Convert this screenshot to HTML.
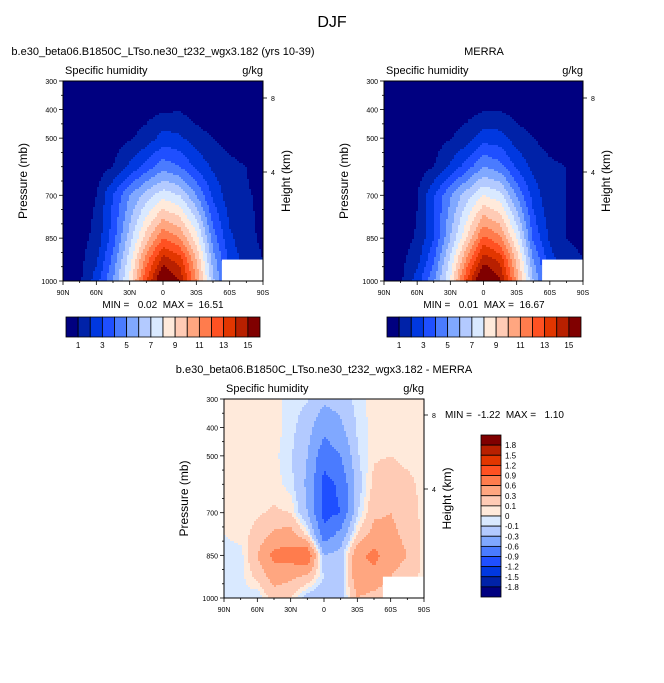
<!DOCTYPE html>
<html><head><meta charset="utf-8"><style>
html,body{margin:0;padding:0;background:#fff;}
svg{display:block;font-family:"Liberation Sans",Arial,sans-serif;}
text{white-space:pre;}
</style></head><body>
<svg id="fig" width="664" height="683" viewBox="0 0 664 683"></svg>
<script>
const lats=[90,75,60,45,30,15,0,-15,-30,-45,-60,-75,-90];
const presTop=[300,400,500,600,700,850,925,1000];
const qModel=[
[0.1,0.1,0.15,0.2,0.25,0.35,0.45,0.45,0.35,0.25,0.2,0.15,0.1],
[0.1,0.1,0.15,0.25,0.35,0.6,0.85,0.9,0.55,0.35,0.25,0.15,0.1],
[0.05,0.1,0.25,0.5,0.9,1.4,2.4,2.2,1.4,1.0,0.6,0.3,0.2],
[0.1,0.25,0.5,1.0,2.2,3.4,4.6,4.0,2.8,1.8,1.3,1.0,0.5],
[0.2,0.4,1.0,3.0,5.0,6.5,7.6,7.0,5.0,2.8,1.4,1.1,0.8],
[0.3,0.6,1.3,3.5,6.5,9.5,12.0,11.0,8.5,4.5,2.2,1.3,0.8],
[0.4,0.7,1.8,4.3,7.5,11.5,14.5,13.5,10.0,5.5,2.7,1.5,1.0],
[0.5,0.8,2.5,5.0,8.3,13.0,16.5,15.0,11.0,6.3,3.0,1.6,0.5]];
const qObs=[
[0.1,0.1,0.15,0.2,0.25,0.35,0.45,0.45,0.35,0.25,0.2,0.15,0.1],
[0.1,0.1,0.15,0.25,0.35,0.6,0.9,0.95,0.55,0.35,0.25,0.15,0.1],
[0.05,0.1,0.25,0.5,0.95,1.5,2.6,2.4,1.5,1.0,0.6,0.3,0.2],
[0.1,0.25,0.5,1.0,2.2,3.5,5.0,4.4,2.8,1.7,1.2,1.0,0.5],
[0.2,0.4,0.95,2.9,4.9,6.6,8.0,7.4,4.9,2.6,1.2,1.0,0.8],
[0.3,0.6,1.1,3.0,6.0,9.0,12.3,11.2,8.0,3.8,1.8,1.0,0.8],
[0.4,0.7,1.6,3.9,7.2,11.2,14.6,13.7,9.7,5.0,2.4,1.3,1.0],
[0.5,0.8,2.5,4.8,8.1,13.2,16.7,15.2,10.7,6.0,2.9,1.4,0.5]];
const presDiff=[300,400,500,600,700,775,850,925,1000];
const qDiff=[
[0.05,0.05,0.05,0.05,-0.05,-0.08,-0.25,-0.2,-0.05,0.05,0.05,0.05,0.05],
[0.05,0.05,0.05,0.05,-0.05,-0.2,-0.5,-0.35,-0.08,0.05,0.05,0.05,0.05],
[0.05,0.05,0.05,0.03,-0.08,-0.3,-0.8,-0.6,-0.12,0.08,0.1,0.05,0.05],
[0.05,0.05,0.05,0.05,-0.05,-0.35,-1.0,-0.85,-0.2,0.15,0.2,0.15,0.05],
[0.05,0.05,0.08,0.12,0.1,-0.3,-1.0,-0.9,-0.12,0.25,0.3,0.2,0.05],
[0.0,0.05,0.15,0.35,0.4,0.05,-0.8,-0.5,0.1,0.4,0.35,0.25,0.05],
[-0.05,-0.05,0.3,0.7,0.75,0.9,-0.3,-0.2,0.5,0.7,0.4,0.3,0.05],
[-0.05,-0.05,0.15,0.4,0.35,0.25,-0.1,-0.2,0.5,0.5,0.3,0.2,0.05],
[-0.05,0.0,-0.1,0.2,0.1,-0.2,-0.3,-0.2,0.3,0.2,0.1,0.1,0.05]];
const levelsQ=[1,2,3,4,5,6,7,8,9,10,11,12,13,14,15];
const levelsD=[-1.8,-1.5,-1.2,-0.9,-0.6,-0.3,-0.1,0,0.1,0.3,0.6,0.9,1.2,1.5,1.8];
const cbLabelsQ=["1","3","5","7","9","11","13","15"];
const xTickLabels=["90N","60N","30N","0","30S","60S","90S"];
const xTickLats=[90,60,30,0,-30,-60,-90];
const pTicks=[300,400,500,700,850,1000];
const hTicks=[8,4];
const colors=["#000080","#0022a8","#0038e0","#1f4fff","#4a7bff","#80a8ff","#b3caff","#d9e9ff","#ffeadb","#ffcbb5","#ffa680","#ff7c4d","#ff5122","#e23600","#b82000","#800000"];

const NS="http://www.w3.org/2000/svg";
const svg=document.getElementById('fig');
function mk(tag,attrs,parent){const e=document.createElementNS(NS,tag);for(const k in attrs)e.setAttribute(k,attrs[k]);(parent||svg).appendChild(e);return e;}
function txt(s,x,y,size,anchor,parent,extra){const t=mk('text',Object.assign({x:x,y:y,'font-size':size,'text-anchor':anchor||'start',fill:'#000'},extra||{}),parent);t.textContent=s;return t;}

function interp(grid,pres,lat,p){
  let fi=(90-lat)/15; fi=Math.max(0,Math.min(lats.length-1,fi));
  let i=Math.min(Math.floor(fi),lats.length-2); let a=fi-i;
  let j=0; while(j<pres.length-2 && p>pres[j+1]) j++;
  let b=(p-pres[j])/(pres[j+1]-pres[j]); b=Math.max(0,Math.min(1,b));
  const v00=grid[j][i],v01=grid[j][i+1],v10=grid[j+1][i],v11=grid[j+1][i+1];
  return (v00*(1-a)+v01*a)*(1-b)+(v10*(1-a)+v11*a)*b;
}
function cls(v,levels){let k=0;for(const l of levels){if(v>=l)k++;}return k;}

function panel(o){
  const g=mk('g',{});
  
  
  const x0=o.x,y0=o.y,w=o.w,h=o.h;
  const xS=lat=>x0+(90-lat)/180*w;
  const yS=p=>y0+(p-300)/700*h;
  const fg=mk('g',{},g);
  
  
  const step=2;
  for(let py=0;py<h;py+=step){
    const p=300+(py+step/2)/h*700;
    let runStart=0,runC=null;
    const cols=Math.ceil(w/step);
    for(let ci=0;ci<=cols;ci++){
      const px=Math.min(ci*step,w);
      let c=null;
      if(ci<cols){const lat=90-(px+step/2)/w*180;c=cls(interp(o.grid,o.pres,lat,p),o.levels);}
      if(c!==runC){
        if(runC!==null){
          const r=mk('rect',{x:x0+runStart,y:y0+py,width:px-runStart+0.4,height:Math.min(step+0.4,h-py),fill:colors[runC]},fg);
          
          
        }
        runStart=px;runC=c;
      }
    }
  }
  const mb=mk('rect',{x:xS(-53),y:yS(925),width:x0+w-xS(-53),height:y0+h-yS(925),fill:'#fff'},g);
  
  
  const fr=mk('rect',{x:x0,y:y0,width:w,height:h,fill:'none',stroke:'#000','stroke-width':1},g);
  
  
  for(let lat=90;lat>=-90;lat-=15){
    const major=lat%30===0;
    mk('line',{x1:xS(lat),x2:xS(lat),y1:y0+h,y2:y0+h+(major?4:2),stroke:'#000','stroke-width':0.8},g);
  }
  xTickLabels.forEach((s,i)=>{const t=txt(s,xS(xTickLats[i]),y0+h+14,7,'middle',g);});
  for(let p=300;p<=1000;p+=50){const major=pTicks.includes(p);mk('line',{x1:x0-(major?4:2),x2:x0,y1:yS(p),y2:yS(p),stroke:'#000','stroke-width':0.8},g);}
  pTicks.forEach(p=>{const t=txt(String(p),x0-6,yS(p)+3,7,'end',g);});
  hTicks.forEach(km=>{const yy=o.kmY(km);mk('line',{x1:x0+w,x2:x0+w+4,y1:yy,y2:yy,stroke:'#000','stroke-width':0.8},g);const t=txt(String(km),x0+w+8,yy+3,7,'start',g);});
  const t1=txt('Specific humidity',x0+2,y0-7,11,'start',g);
  const t2=txt('g/kg',x0+w,y0-7,11,'end',g);
  const yl=txt('Pressure (mb)',0,0,12,'middle',g,{transform:`translate(${x0-36},${y0+h/2}) rotate(-90)`});
  const hl=txt('Height (km)',0,0,12,'middle',g,{transform:`translate(${x0+w+27},${y0+h/2}) rotate(-90)`});
  return g;
}
function hbar(x,y,w,h,name){
  const g=mk('g',{});
  const bw=w/16;
  colors.forEach((c,i)=>{const r=mk('rect',{x:x+i*bw,y:y,width:bw,height:h,fill:c,stroke:'#000','stroke-width':0.8},g);});
  cbLabelsQ.forEach((s,k)=>{const t=txt(s,x+(2*k+1)*bw,y+h+11,8,'middle',g);});
}
function vbar(x,y,w,h){
  const g=mk('g',{});
  const bh=h/16;
  colors.slice().reverse().forEach((c,i)=>{const r=mk('rect',{x:x,y:y+i*bh,width:w,height:bh,fill:c,stroke:'#000','stroke-width':0.8},g);});
  levelsD.slice().reverse().forEach((v,k)=>{const t=txt(String(v),x+w+4,y+(k+1)*bh+3,8,'start',g);});
}

const T=txt('DJF',332,27,16,'middle');
let t;
t=txt('b.e30_beta06.B1850C_LTso.ne30_t232_wgx3.182 (yrs 10-39)',163,55,11,'middle');
t=txt('MERRA',484,55,11,'middle');
t=txt('b.e30_beta06.B1850C_LTso.ne30_t232_wgx3.182 - MERRA',324,373,11,'middle');

panel({name:'model-panel',x:63,y:81,w:200,h:200,grid:qModel,pres:presTop,levels:levelsQ,kmY:km=>km===8?98:172});
panel({name:'obs-panel',x:384,y:81,w:199,h:200,grid:qObs,pres:presTop,levels:levelsQ,kmY:km=>km===8?98:172});
panel({name:'diff-panel',x:224,y:399,w:200,h:199,grid:qDiff,pres:presDiff,levels:levelsD,kmY:km=>km===8?415:489});

t=txt('MIN =   0.02  MAX =  16.51',163,308,10,'middle');
t=txt('MIN =   0.01  MAX =  16.67',484,308,10,'middle');
t=txt('MIN =  -1.22  MAX =   1.10',445,418,10,'start');

hbar(66,317,194,20,'model-colorbar');
hbar(387,317,194,20,'obs-colorbar');
vbar(481,435,20,162);
</script>
</body></html>
